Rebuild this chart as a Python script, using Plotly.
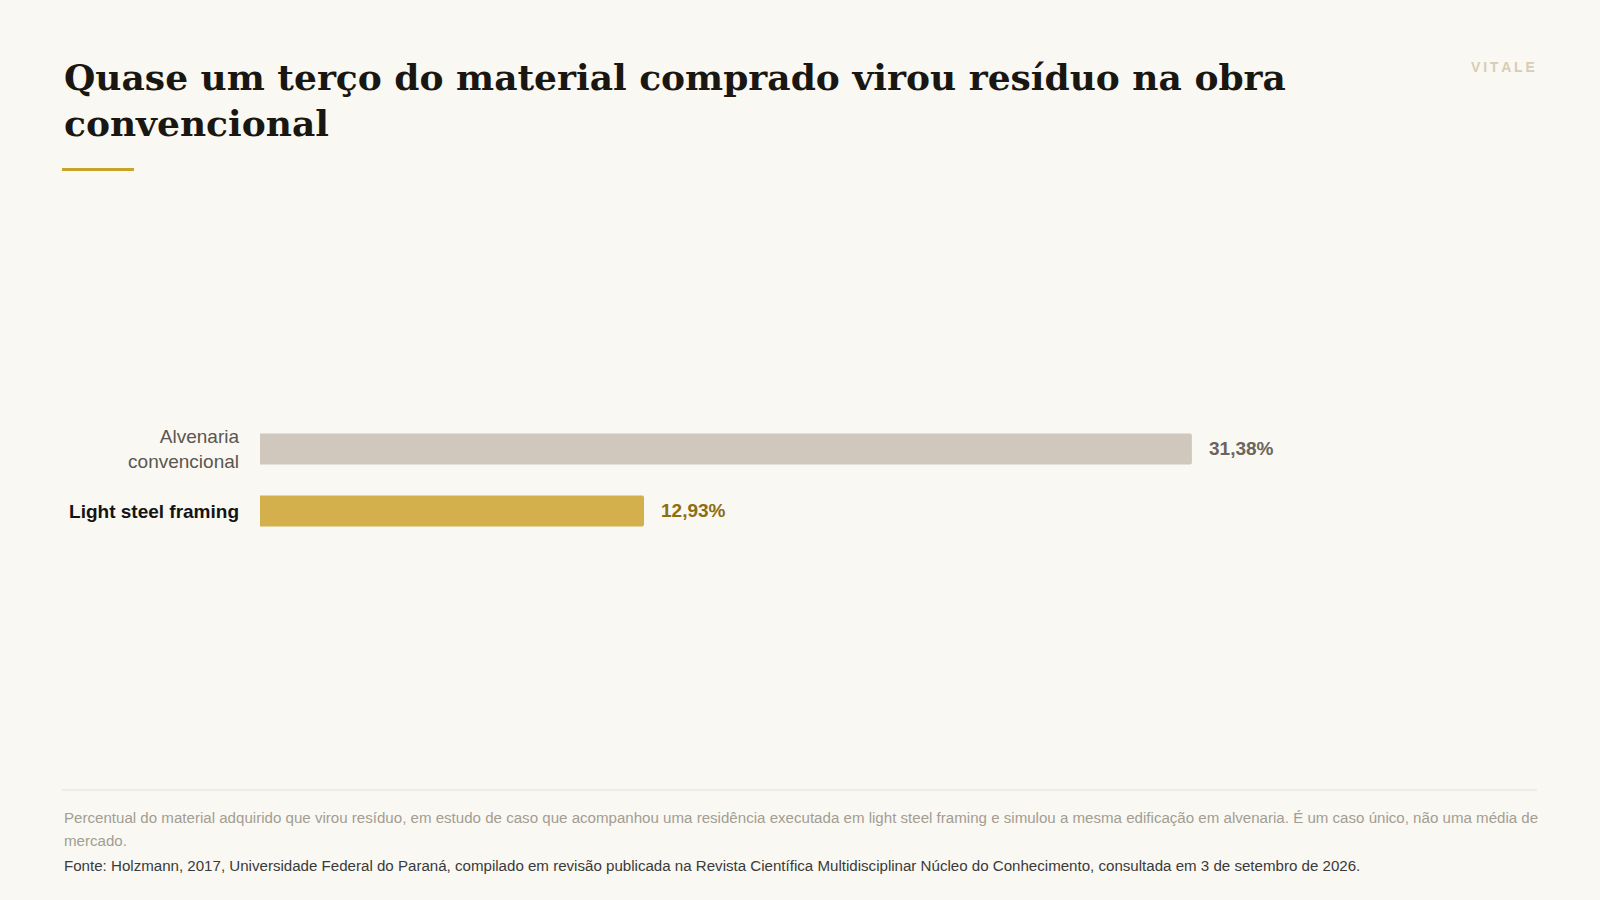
import plotly.graph_objects as go

# ---- data ----
categories = ["Alvenaria convencional", "Light steel framing"]
tick_labels = [
    "<span style='color:#5a5650'>Alvenaria<br>convencional</span>",
    "<span style='color:#141414'><b>Light steel framing</b></span>",
]
values = [31.38, 12.93]
value_labels = ["31,38%", "12,93%"]
bar_colors = ["#d0c8bc", "#d3b04b"]
value_colors = ["#6b655c", "#8c6d12"]

title_lines = ["Quase um terço do material comprado virou resíduo na obra", "convencional"]
note_lines = [
    "Percentual do material adquirido que virou resíduo, em estudo de caso que acompanhou uma residência executada em light steel framing e simulou a mesma edificação em alvenaria. É um caso único, não uma média de",
    "mercado.",
]
source_text = "Fonte: Holzmann, 2017, Universidade Federal do Paraná, compilado em revisão publicada na Revista Científica Multidisciplinar Núcleo do Conhecimento, consultada em 3 de setembro de 2026."
brand = "VITALE"

# ---- geometry helpers (pixels -> paper) ----
W, H = 1600, 900
ML, MR, MT, MB = 62, 63, 40, 20
PW, PH = W - ML - MR, H - MT - MB


def px(x):
    return (x - ML) / PW


def py(y):
    return (H - MB - y) / PH


BG = "#f9f8f3"
SANS = "Liberation Sans, Arial, Helvetica, sans-serif"
SERIF = "DejaVu Serif, Georgia, serif"

fig = go.Figure()
fig.add_trace(go.Bar(
    y=categories,
    x=values,
    orientation="h",
    marker=dict(color=bar_colors, line=dict(width=0)),
    hoverinfo="skip",
))

annotations = []
for cat, v, lab, col in zip(categories, values, value_labels, value_colors):
    annotations.append(dict(
        x=v, y=cat, xref="x", yref="y", text=f"<b>{lab}</b>", showarrow=False,
        xanchor="left", yanchor="middle", xshift=15,
        font=dict(family=SANS, size=19, color=col),
    ))

# title
title_y = [77, 123]
for line, yy in zip(title_lines, title_y):
    annotations.append(dict(
        x=0, y=py(yy), xref="paper", yref="paper", text=f"<b>{line}</b>", showarrow=False,
        xanchor="left", yanchor="middle",
        font=dict(family=SERIF, size=36, color="#1a1712"),
    ))

# brand
annotations.append(dict(
    x=1, y=py(67), xref="paper", yref="paper", text="<b>" + "\u2009".join(brand) + "</b>",
    showarrow=False, xanchor="right", yanchor="middle",
    font=dict(family=SANS, size=14, color="#d8ccb4"),
))

# footer
for line, yy in zip(note_lines, [817, 840]):
    annotations.append(dict(
        x=0, y=py(yy), xref="paper", yref="paper", text=line, showarrow=False,
        xanchor="left", yanchor="middle",
        font=dict(family=SANS, size=15.1, color="#a39d92"),
    ))
annotations.append(dict(
    x=0, y=py(865), xref="paper", yref="paper", text=source_text, showarrow=False,
    xanchor="left", yanchor="middle",
    font=dict(family=SANS, size=15.1, color="#3a3a3a"),
))

shapes = [
    dict(type="rect", xref="paper", yref="paper", x0=0, x1=px(134), y0=py(171), y1=py(168),
         fillcolor="#c9a227", line=dict(width=0)),
    dict(type="line", xref="paper", yref="paper", x0=0, x1=1, y0=py(790), y1=py(790),
         line=dict(color="#e5e0d6", width=1)),
]

fig.update_layout(
    width=W, height=H,
    paper_bgcolor=BG, plot_bgcolor=BG,
    margin=dict(l=ML, r=MR, t=MT, b=MB),
    showlegend=False,
    bargap=0.5,
    barcornerradius=2,
    annotations=annotations,
    shapes=shapes,
    xaxis=dict(domain=[px(260), 1], range=[0, 43], visible=False, fixedrange=True),
    yaxis=dict(
        domain=[py(542), py(418)],
        type="category",
        categoryorder="array", categoryarray=categories,
        range=[1.5, -0.5],
        tickmode="array", tickvals=categories, ticktext=tick_labels,
        showgrid=False, zeroline=False, showline=False, ticks="",
        ticklabelstandoff=20,
        tickfont=dict(family=SANS, size=19, color="#5a5650"),
        fixedrange=True,
    ),
)

fig.write_html(
    "out.html",
    config={"displayModeBar": False},
    post_script="document.body.style.margin='0';document.body.style.overflow='hidden';document.body.style.background='#f9f8f3';",
)
